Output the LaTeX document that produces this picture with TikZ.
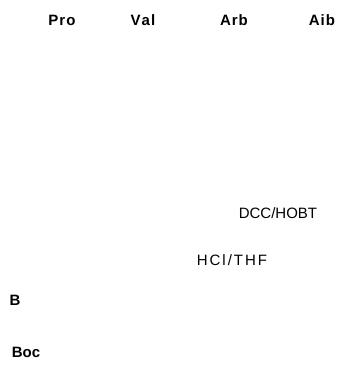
\documentclass[tikz,border=0pt]{standalone}
\usepackage{fontspec}
\setmainfont{Liberation Sans}
\begin{document}
\begin{tikzpicture}[x=1pt,y=1pt,
  residue/.style={font=\fontsize{15}{17}\selectfont\bfseries, inner sep=0pt},
  reagent/.style={font=\fontsize{15}{17}\selectfont, inner sep=0pt}]
  \useasboundingbox (0,0) rectangle (342,365);
  % amino-acid labels along the top
  \node[residue] (pro) at (62,345) {P\kern1ptr\kern1pto};
  \node[residue] (val) at (143,345) {V\kern1pta\kern1ptl};
  \node[residue] (arb) at (234,345) {A\kern1ptr\kern1ptb};
  \node[residue] (aib) at (322,345) {A\kern1pti\kern1ptb};
  % reaction conditions
  \node[reagent] (coupling) at (278,152) {DCC/HOBT};
  \node[reagent] (deprot) at (232,105) {H\kern2ptC\kern2ptl\kern2pt/\kern2ptT\kern2ptH\kern2ptF};
  % scheme label and protecting group
  \node[residue] (lblB) at (15,65) {B};
  \node[residue] (boc) at (26,13) {Boc};
\end{tikzpicture}
\end{document}
